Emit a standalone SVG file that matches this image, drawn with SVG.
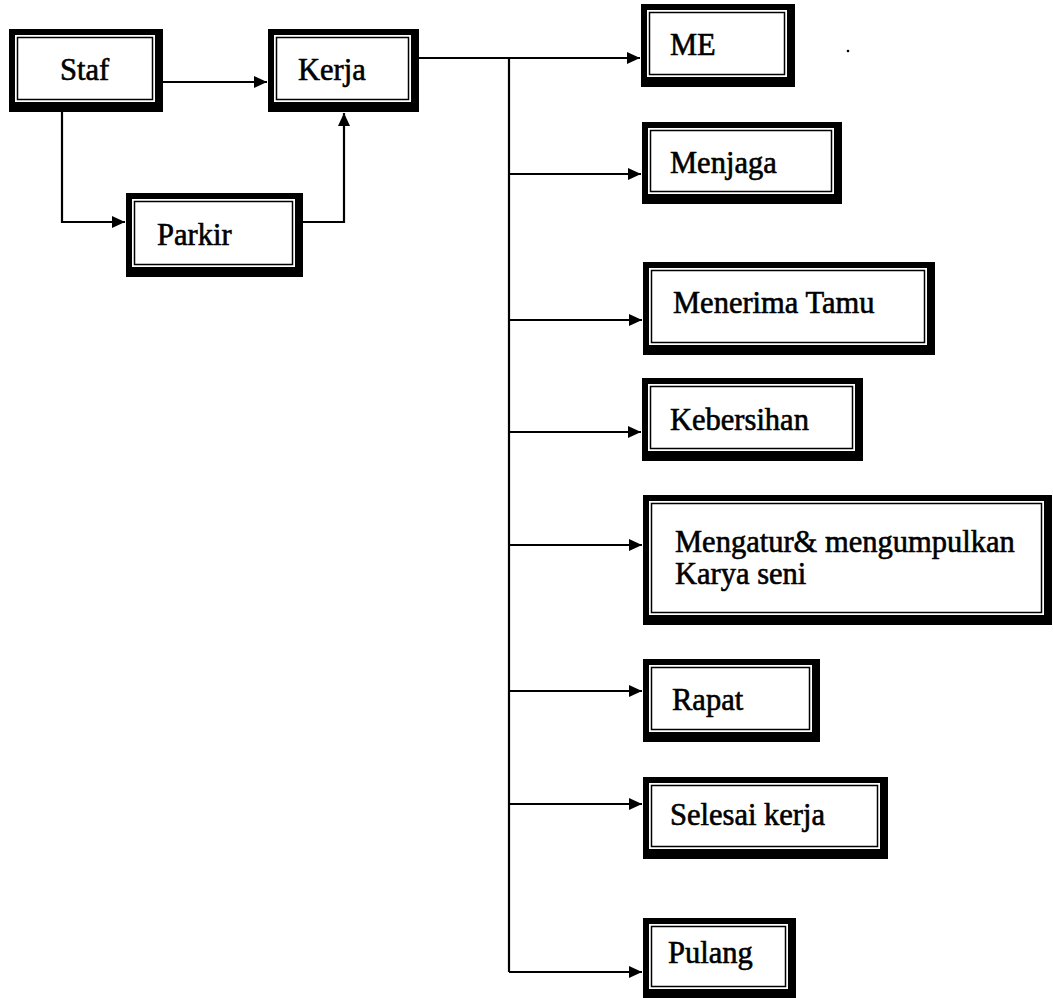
<svg xmlns="http://www.w3.org/2000/svg" width="1053" height="998" viewBox="0 0 1053 998">
<style>
.o{fill:#000}
.w{fill:#fff}
.t{fill:none;stroke:#000;stroke-width:1.5}
.lbl{font-family:"Liberation Serif","Times New Roman",serif;font-size:30.5px;fill:#000;stroke:#000;stroke-width:0.6}
.c{fill:none;stroke:#000;stroke-width:2.2}
</style>
<defs>
<marker id="ah" markerUnits="userSpaceOnUse" markerWidth="14" markerHeight="14" refX="13" refY="7" orient="auto">
<path d="M0,1 L13,7 L0,13 z" fill="#000"/>
</marker>
</defs>
<rect width="1053" height="998" fill="#fff"/>
<g id="connectors">
<path class="c" d="M163,82 H267" marker-end="url(#ah)"/>
<path class="c" d="M62,112 V222 H125" marker-end="url(#ah)"/>
<path class="c" d="M303,222 H344 V113" marker-end="url(#ah)"/>
<path class="c" d="M419,58 H640" marker-end="url(#ah)"/>
<path class="c" d="M509,58 V972"/>
<path class="c" d="M509,174 H641" marker-end="url(#ah)"/>
<path class="c" d="M509,320 H642" marker-end="url(#ah)"/>
<path class="c" d="M509,432 H641" marker-end="url(#ah)"/>
<path class="c" d="M509,545 H642" marker-end="url(#ah)"/>
<path class="c" d="M509,691 H642" marker-end="url(#ah)"/>
<path class="c" d="M509,804 H642" marker-end="url(#ah)"/>
<path class="c" d="M509,972 H642" marker-end="url(#ah)"/>
</g>
<g id="staf">
<rect class="o" x="9" y="29" width="154" height="83"/>
<rect class="w" x="15" y="35" width="140" height="67"/>
<rect class="t" x="17.5" y="37.5" width="135" height="62"/>
<text class="lbl" x="60" y="80">Staf</text>
</g>
<g id="kerja">
<rect class="o" x="268" y="29" width="151" height="83"/>
<rect class="w" x="274" y="35" width="137" height="67"/>
<rect class="t" x="276.5" y="37.5" width="132" height="62"/>
<text class="lbl" x="298" y="80">Kerja</text>
</g>
<g id="parkir">
<rect class="o" x="126" y="193" width="177" height="84"/>
<rect class="w" x="132" y="199" width="163" height="68"/>
<rect class="t" x="134.5" y="201.5" width="158" height="63"/>
<text class="lbl" x="157" y="245">Parkir</text>
</g>
<g id="me">
<rect class="o" x="641" y="4" width="154" height="83"/>
<rect class="w" x="647" y="10" width="140" height="67"/>
<rect class="t" x="649.5" y="12.5" width="135" height="62"/>
<text class="lbl" x="670" y="55">ME</text>
</g>
<circle cx="848" cy="51" r="1.3" fill="#000"/>
<g id="menjaga">
<rect class="o" x="642" y="122" width="200" height="82"/>
<rect class="w" x="648" y="128" width="186" height="66"/>
<rect class="t" x="650.5" y="130.5" width="181" height="61"/>
<text class="lbl" x="670" y="173">Menjaga</text>
</g>
<g id="menerima-tamu">
<rect class="o" x="643" y="262" width="292" height="93"/>
<rect class="w" x="649" y="268" width="278" height="77"/>
<rect class="t" x="651.5" y="270.5" width="273" height="72"/>
<text class="lbl" x="673" y="313">Menerima Tamu</text>
</g>
<g id="kebersihan">
<rect class="o" x="642" y="378" width="221" height="83"/>
<rect class="w" x="648" y="384" width="207" height="67"/>
<rect class="t" x="650.5" y="386.5" width="202" height="62"/>
<text class="lbl" x="670" y="430">Kebersihan</text>
</g>
<g id="mengatur">
<rect class="o" x="643" y="495" width="409" height="130"/>
<rect class="w" x="649" y="501" width="395" height="114"/>
<rect class="t" x="651.5" y="503.5" width="390" height="109"/>
<text class="lbl" x="675" y="552">Mengatur&amp; mengumpulkan</text>
<text class="lbl" x="675" y="584">Karya seni</text>
</g>
<g id="rapat">
<rect class="o" x="643" y="659" width="177" height="83"/>
<rect class="w" x="649" y="665" width="163" height="67"/>
<rect class="t" x="651.5" y="667.5" width="158" height="62"/>
<text class="lbl" x="672" y="710">Rapat</text>
</g>
<g id="selesai-kerja">
<rect class="o" x="643" y="777" width="245" height="82"/>
<rect class="w" x="649" y="783" width="231" height="66"/>
<rect class="t" x="651.5" y="785.5" width="226" height="61"/>
<text class="lbl" x="670" y="825">Selesai kerja</text>
</g>
<g id="pulang">
<rect class="o" x="643" y="918" width="153" height="80"/>
<rect class="w" x="649" y="924" width="139" height="65"/>
<rect class="t" x="651.5" y="926.5" width="134" height="60"/>
<text class="lbl" x="668" y="963">Pulang</text>
</g>
</svg>
